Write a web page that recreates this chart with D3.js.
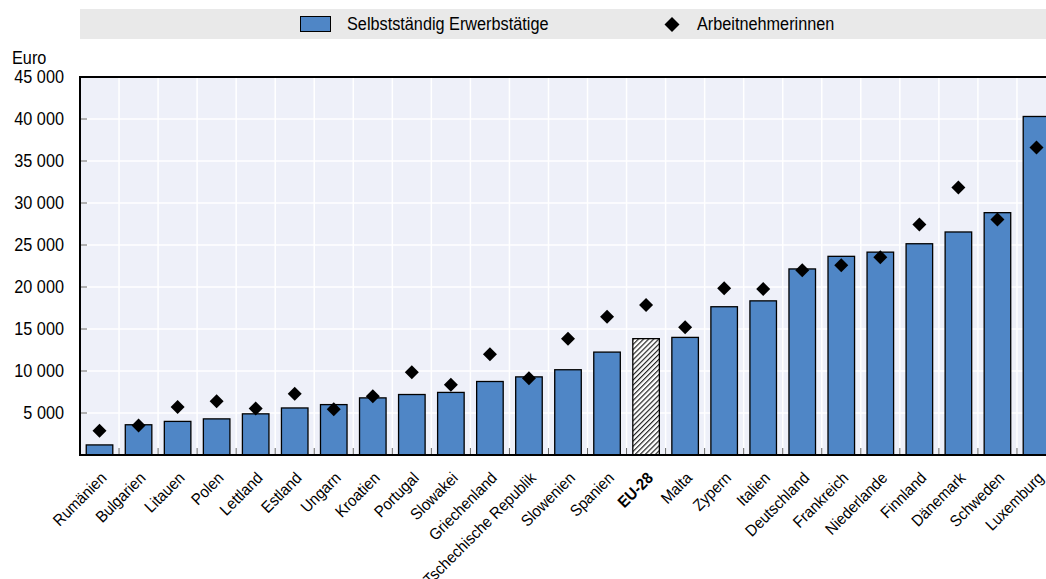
<!DOCTYPE html>
<html>
<head>
<meta charset="utf-8">
<script src="https://cdn.jsdelivr.net/npm/d3@7"></script>
<style>
  html, body { margin: 0; padding: 0; background: #fff; }
  svg { display: block; }
  text { font-family: "Liberation Sans", Arial, sans-serif; fill: #000; }
</style>
</head>
<body>
<svg id="chart" width="1046" height="579"></svg>
<script>
// Countries, sorted by self-employed value
const categories = [
  "Rumänien", "Bulgarien", "Litauen", "Polen", "Lettland", "Estland", "Ungarn",
  "Kroatien", "Portugal", "Slowakei", "Griechenland", "Tschechische Republik",
  "Slowenien", "Spanien", "EU-28", "Malta", "Zypern", "Italien", "Deutschland",
  "Frankreich", "Niederlande", "Finnland", "Dänemark", "Schweden", "Luxemburg"
];
// Selbstständig Erwerbstätige (Euro)
const selfEmployed = [
  1200, 3600, 4000, 4300, 4900, 5600, 6000,
  6800, 7200, 7450, 8750, 9300,
  10150, 12250, 13850, 14000, 17650, 18350, 22150,
  23650, 24150, 25150, 26550, 28850, 40300
];
// Arbeitnehmerinnen (Euro)
const employees = [
  2900, 3500, 5700, 6400, 5550, 7300, 5450,
  7000, 9850, 8350, 12000, 9150,
  13850, 16450, 17850, 15200, 19850, 19750, 22000,
  22600, 23550, 27450, 31850, 28050, 36600
];
const yTicks = [5000, 10000, 15000, 20000, 25000, 30000, 35000, 40000, 45000];
const yTickLabels = ["5 000", "10 000", "15 000", "20 000", "25 000", "30 000", "35 000", "40 000", "45 000"];
const seriesNames = ["Selbstständig Erwerbstätige", "Arbeitnehmerinnen"];
const unitLabel = "Euro";
const highlight = "EU-28";

const svg = d3.select("#chart");
const m = { left: 80, top: 77 };
const plotW = 976;   // the category band runs slightly past the right edge
const plotH = 378;

const barColor = "#4f86c6";
const plotBg = "#eef0f9";
const FS = 17.5, KX = 0.93;   // condensed look: regular face squeezed horizontally

// text helper: position, optional rotation, horizontal squeeze
function label(parent, x, y, str, opts = {}) {
  return parent.append("text")
    .attr("transform", `translate(${x},${y}) rotate(${opts.rotate || 0}) scale(${KX},1)`)
    .attr("text-anchor", opts.anchor || "start")
    .attr("font-size", opts.size || FS)
    .attr("font-weight", opts.bold ? "bold" : "normal")
    .text(str);
}

// hatch pattern for the EU aggregate
const defs = svg.append("defs");
const pat = defs.append("pattern")
  .attr("id", "hatch").attr("patternUnits", "userSpaceOnUse")
  .attr("width", 3.6).attr("height", 3.6)
  .attr("patternTransform", "rotate(45)");
pat.append("rect").attr("width", 3.6).attr("height", 3.6).attr("fill", "#fff");
pat.append("line").attr("x1", 0.6).attr("y1", 0).attr("x2", 0.6).attr("y2", 3.6)
  .attr("stroke", "#111").attr("stroke-width", 1.1);

// legend band
const legend = svg.append("g");
legend.append("rect").attr("x", 80).attr("y", 9).attr("width", 966).attr("height", 30).attr("fill", "#e9e9e9");
legend.append("rect").attr("x", 300.5).attr("y", 16.5).attr("width", 30).attr("height", 15)
  .attr("fill", barColor).attr("stroke", "#000").attr("stroke-width", 1);
label(legend, 347, 30, seriesNames[0]);
legend.append("path").attr("transform", "translate(672,24.5)")
  .attr("d", "M0,-7.5L7.5,0L0,7.5L-7.5,0Z").attr("fill", "#000");
label(legend, 697, 30, seriesNames[1]);

const g = svg.append("g").attr("transform", `translate(${m.left},${m.top})`);

const x = d3.scaleBand().domain(categories).range([0, plotW]).paddingInner(0.32).paddingOuter(0.16);
const y = d3.scaleLinear().domain([0, 45000]).range([plotH, 0]);
const step = x.step();
const bw = x.bandwidth();
const cx = d => x(d) + bw / 2;

g.append("rect").attr("width", plotW).attr("height", plotH).attr("fill", plotBg);

// horizontal gridlines
g.append("g").selectAll("line").data(yTicks).join("line")
  .attr("x1", 0).attr("x2", plotW)
  .attr("y1", d => y(d)).attr("y2", d => y(d))
  .attr("stroke", "#fff").attr("stroke-width", 1.5);

// vertical gridlines between categories
const bounds = categories.slice(1).map(c => cx(c) - step / 2);
g.append("g").selectAll("line").data(bounds).join("line")
  .attr("x1", d => d).attr("x2", d => d)
  .attr("y1", 0).attr("y2", plotH)
  .attr("stroke", "#fff").attr("stroke-width", 1.5);

// bars
g.append("g").selectAll("rect").data(categories).join("rect")
  .attr("x", d => x(d))
  .attr("y", (d, i) => y(selfEmployed[i]))
  .attr("width", bw)
  .attr("height", (d, i) => plotH - y(selfEmployed[i]))
  .attr("fill", d => d === highlight ? "url(#hatch)" : barColor)
  .attr("stroke", "#000").attr("stroke-width", 1.3);

// diamonds
g.append("g").selectAll("path").data(categories).join("path")
  .attr("transform", (d, i) => `translate(${cx(d)},${y(employees[i])})`)
  .attr("d", "M0,-7L7,0L0,7L-7,0Z")
  .attr("fill", "#000");

// y axis ticks and labels
const yAxisG = g.append("g");
yAxisG.selectAll("line").data(yTicks).join("line")
  .attr("x1", 0).attr("x2", 7)
  .attr("y1", d => y(d)).attr("y2", d => y(d))
  .attr("stroke", "#666").attr("stroke-width", 1);
yTicks.forEach((t, i) => label(yAxisG, -16, y(t) + 6.3, yTickLabels[i], { anchor: "end" }));

// x axis: ticks at category boundaries, rotated labels
const xAxisG = g.append("g");
xAxisG.selectAll("line").data(bounds).join("line")
  .attr("x1", d => d).attr("x2", d => d)
  .attr("y1", plotH).attr("y2", plotH - 7)
  .attr("stroke", "#666").attr("stroke-width", 1);
categories.forEach(c => label(xAxisG, cx(c) + 8, plotH + 24, c,
  { anchor: "end", rotate: -45, bold: c === highlight, size: 16 }));

// frame: top, bottom, left
g.append("line").attr("x1", 0).attr("x2", plotW).attr("y1", 0).attr("y2", 0).attr("stroke", "#000").attr("stroke-width", 2);
g.append("line").attr("x1", 0).attr("x2", plotW).attr("y1", plotH).attr("y2", plotH).attr("stroke", "#000").attr("stroke-width", 2);
g.append("line").attr("x1", 0).attr("x2", 0).attr("y1", -1).attr("y2", plotH + 1).attr("stroke", "#000").attr("stroke-width", 2);

// unit label
label(svg, 12, 64, unitLabel);
</script>
</body>
</html>
